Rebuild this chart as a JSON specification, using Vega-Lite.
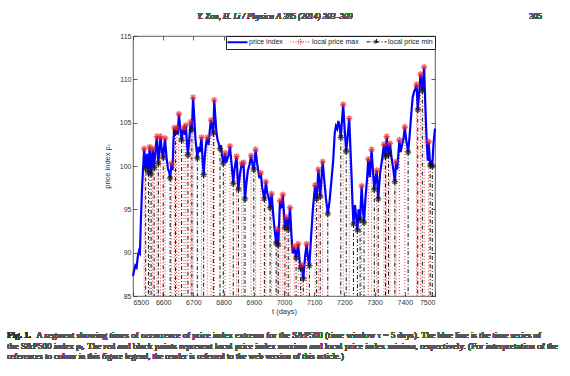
{
  "$schema": "https://vega.github.io/schema/vega-lite/v6.json",
  "width": 302,
  "height": 260,
  "autosize": {"type": "none"},
  "padding": {"left": 133, "top": 36, "right": 135, "bottom": 80},
  "background": "white",
  "config": {
    "view": {"stroke": "#333", "strokeWidth": 0.8},
    "axis": {"grid": false, "domain": false, "tickSize": -4, "tickColor": "#333", "tickWidth": 0.8, "labelFont": "Liberation Sans", "labelFontSize": 7, "labelColor": "#333", "labelPadding": 6, "titleFont": "Liberation Sans", "titleFontSize": 7.5, "titleFontWeight": "normal", "titleColor": "#333", "format": "d"},
    "legend": {"orient": "top-right", "direction": "horizontal", "offset": 0, "padding": 2, "strokeColor": "#222", "fillColor": "white", "labelFont": "Liberation Sans", "labelFontSize": 7, "labelColor": "#222", "symbolSize": 64, "labelOffset": 14, "columnPadding": 5, "cornerRadius": 0}
  },
  "datasets": {
    "s": [
      {"t": 6500, "p": 87.3, "k": ""},
      {"t": 6504, "p": 88.0, "k": ""},
      {"t": 6508, "p": 88.5, "k": ""},
      {"t": 6512, "p": 88.3, "k": ""},
      {"t": 6516, "p": 89.6, "k": ""},
      {"t": 6520, "p": 90.2, "k": ""},
      {"t": 6523, "p": 90.0, "k": ""},
      {"t": 6526, "p": 93.5, "k": ""},
      {"t": 6530, "p": 97.5, "k": ""},
      {"t": 6533, "p": 99.5, "k": ""},
      {"t": 6537, "p": 102.0, "k": "local price max"},
      {"t": 6542, "p": 99.7, "k": "local price min"},
      {"t": 6547, "p": 101.4, "k": ""},
      {"t": 6551, "p": 99.2, "k": "local price min"},
      {"t": 6555, "p": 102.2, "k": "local price max"},
      {"t": 6560, "p": 99.1, "k": "local price min"},
      {"t": 6565, "p": 102.0, "k": "local price max"},
      {"t": 6570, "p": 99.8, "k": "local price min"},
      {"t": 6575, "p": 102.1, "k": ""},
      {"t": 6579, "p": 103.4, "k": "local price max"},
      {"t": 6584, "p": 100.3, "k": "local price min"},
      {"t": 6588, "p": 102.0, "k": ""},
      {"t": 6591, "p": 103.4, "k": "local price max"},
      {"t": 6596, "p": 101.6, "k": ""},
      {"t": 6600, "p": 101.0, "k": "local price min"},
      {"t": 6606, "p": 103.2, "k": "local price max"},
      {"t": 6611, "p": 101.0, "k": ""},
      {"t": 6616, "p": 99.6, "k": ""},
      {"t": 6620, "p": 99.3, "k": ""},
      {"t": 6623, "p": 98.6, "k": "local price min"},
      {"t": 6627, "p": 100.3, "k": "local price max"},
      {"t": 6631, "p": 99.5, "k": ""},
      {"t": 6634, "p": 103.0, "k": ""},
      {"t": 6637, "p": 104.4, "k": "local price max"},
      {"t": 6641, "p": 103.9, "k": "local price min"},
      {"t": 6645, "p": 104.4, "k": "local price max"},
      {"t": 6648, "p": 103.6, "k": ""},
      {"t": 6652, "p": 106.0, "k": "local price max"},
      {"t": 6656, "p": 104.5, "k": ""},
      {"t": 6661, "p": 103.0, "k": "local price min"},
      {"t": 6665, "p": 104.1, "k": ""},
      {"t": 6669, "p": 104.4, "k": "local price max"},
      {"t": 6672, "p": 103.6, "k": ""},
      {"t": 6675, "p": 104.7, "k": "local price max"},
      {"t": 6679, "p": 102.5, "k": ""},
      {"t": 6682, "p": 101.3, "k": "local price min"},
      {"t": 6686, "p": 103.0, "k": ""},
      {"t": 6691, "p": 105.1, "k": "local price max"},
      {"t": 6695, "p": 104.2, "k": "local price min"},
      {"t": 6699, "p": 107.9, "k": "local price max"},
      {"t": 6703, "p": 105.5, "k": ""},
      {"t": 6707, "p": 103.0, "k": ""},
      {"t": 6710, "p": 102.0, "k": ""},
      {"t": 6713, "p": 100.9, "k": "local price min"},
      {"t": 6717, "p": 102.2, "k": ""},
      {"t": 6721, "p": 101.6, "k": ""},
      {"t": 6724, "p": 102.5, "k": ""},
      {"t": 6727, "p": 103.3, "k": "local price max"},
      {"t": 6730, "p": 101.0, "k": ""},
      {"t": 6734, "p": 99.0, "k": "local price min"},
      {"t": 6738, "p": 101.2, "k": ""},
      {"t": 6742, "p": 102.6, "k": ""},
      {"t": 6746, "p": 103.3, "k": "local price max"},
      {"t": 6750, "p": 102.4, "k": ""},
      {"t": 6754, "p": 104.0, "k": ""},
      {"t": 6758, "p": 105.3, "k": "local price max"},
      {"t": 6762, "p": 104.4, "k": ""},
      {"t": 6766, "p": 103.8, "k": "local price min"},
      {"t": 6769, "p": 107.6, "k": "local price max"},
      {"t": 6772, "p": 106.0, "k": ""},
      {"t": 6776, "p": 104.0, "k": ""},
      {"t": 6780, "p": 103.0, "k": ""},
      {"t": 6784, "p": 102.6, "k": ""},
      {"t": 6788, "p": 102.0, "k": "local price min"},
      {"t": 6791, "p": 102.4, "k": ""},
      {"t": 6795, "p": 101.2, "k": ""},
      {"t": 6799, "p": 100.3, "k": "local price min"},
      {"t": 6805, "p": 101.5, "k": "local price max"},
      {"t": 6809, "p": 100.4, "k": ""},
      {"t": 6813, "p": 100.9, "k": ""},
      {"t": 6817, "p": 101.3, "k": ""},
      {"t": 6821, "p": 102.3, "k": "local price max"},
      {"t": 6826, "p": 100.4, "k": ""},
      {"t": 6832, "p": 98.0, "k": "local price min"},
      {"t": 6836, "p": 99.6, "k": ""},
      {"t": 6843, "p": 101.1, "k": "local price max"},
      {"t": 6846, "p": 99.0, "k": ""},
      {"t": 6849, "p": 97.3, "k": "local price min"},
      {"t": 6854, "p": 99.0, "k": ""},
      {"t": 6860, "p": 100.3, "k": "local price max"},
      {"t": 6863, "p": 99.8, "k": ""},
      {"t": 6866, "p": 100.4, "k": "local price max"},
      {"t": 6871, "p": 96.2, "k": "local price min"},
      {"t": 6875, "p": 97.8, "k": ""},
      {"t": 6880, "p": 99.4, "k": ""},
      {"t": 6886, "p": 100.2, "k": ""},
      {"t": 6891, "p": 101.2, "k": "local price max"},
      {"t": 6896, "p": 100.1, "k": ""},
      {"t": 6900, "p": 99.6, "k": "local price min"},
      {"t": 6906, "p": 101.9, "k": "local price max"},
      {"t": 6911, "p": 100.3, "k": ""},
      {"t": 6915, "p": 99.4, "k": ""},
      {"t": 6918, "p": 98.6, "k": ""},
      {"t": 6923, "p": 99.2, "k": "local price max"},
      {"t": 6928, "p": 97.5, "k": ""},
      {"t": 6935, "p": 96.2, "k": "local price min"},
      {"t": 6940, "p": 98.2, "k": "local price max"},
      {"t": 6945, "p": 96.8, "k": ""},
      {"t": 6950, "p": 96.3, "k": ""},
      {"t": 6954, "p": 95.2, "k": "local price min"},
      {"t": 6959, "p": 96.8, "k": "local price max"},
      {"t": 6964, "p": 94.5, "k": ""},
      {"t": 6969, "p": 92.6, "k": ""},
      {"t": 6974, "p": 91.1, "k": "local price min"},
      {"t": 6978, "p": 92.7, "k": "local price max"},
      {"t": 6981, "p": 90.9, "k": "local price min"},
      {"t": 6985, "p": 94.5, "k": ""},
      {"t": 6987, "p": 96.0, "k": "local price max"},
      {"t": 6991, "p": 95.1, "k": ""},
      {"t": 6996, "p": 96.7, "k": "local price max"},
      {"t": 7000, "p": 94.5, "k": ""},
      {"t": 7003, "p": 92.9, "k": "local price min"},
      {"t": 7008, "p": 94.1, "k": "local price max"},
      {"t": 7014, "p": 92.7, "k": "local price min"},
      {"t": 7020, "p": 95.2, "k": "local price max"},
      {"t": 7025, "p": 91.8, "k": ""},
      {"t": 7029, "p": 89.9, "k": ""},
      {"t": 7034, "p": 90.7, "k": "local price max"},
      {"t": 7040, "p": 89.4, "k": "local price min"},
      {"t": 7047, "p": 91.0, "k": "local price max"},
      {"t": 7052, "p": 88.9, "k": ""},
      {"t": 7055, "p": 88.2, "k": "local price min"},
      {"t": 7059, "p": 88.6, "k": "local price max"},
      {"t": 7064, "p": 87.0, "k": "local price min"},
      {"t": 7070, "p": 89.6, "k": ""},
      {"t": 7075, "p": 91.0, "k": "local price max"},
      {"t": 7080, "p": 89.2, "k": ""},
      {"t": 7084, "p": 88.5, "k": "local price min"},
      {"t": 7090, "p": 92.0, "k": ""},
      {"t": 7096, "p": 95.2, "k": ""},
      {"t": 7103, "p": 97.8, "k": "local price max"},
      {"t": 7108, "p": 96.2, "k": "local price min"},
      {"t": 7114, "p": 99.6, "k": "local price max"},
      {"t": 7120, "p": 96.5, "k": "local price min"},
      {"t": 7128, "p": 100.5, "k": "local price max"},
      {"t": 7133, "p": 98.5, "k": ""},
      {"t": 7139, "p": 96.2, "k": ""},
      {"t": 7145, "p": 94.5, "k": "local price min"},
      {"t": 7151, "p": 96.0, "k": ""},
      {"t": 7157, "p": 98.3, "k": ""},
      {"t": 7163, "p": 100.7, "k": ""},
      {"t": 7168, "p": 103.8, "k": ""},
      {"t": 7172, "p": 104.6, "k": ""},
      {"t": 7176, "p": 104.3, "k": ""},
      {"t": 7180, "p": 105.2, "k": ""},
      {"t": 7184, "p": 104.6, "k": ""},
      {"t": 7188, "p": 103.3, "k": "local price min"},
      {"t": 7196, "p": 107.1, "k": "local price max"},
      {"t": 7201, "p": 104.2, "k": ""},
      {"t": 7206, "p": 101.7, "k": "local price min"},
      {"t": 7211, "p": 103.5, "k": ""},
      {"t": 7216, "p": 105.5, "k": "local price max"},
      {"t": 7220, "p": 102.0, "k": ""},
      {"t": 7224, "p": 98.5, "k": ""},
      {"t": 7227, "p": 95.5, "k": ""},
      {"t": 7230, "p": 93.3, "k": "local price min"},
      {"t": 7235, "p": 95.5, "k": ""},
      {"t": 7238, "p": 94.5, "k": ""},
      {"t": 7243, "p": 92.6, "k": "local price min"},
      {"t": 7247, "p": 95.0, "k": ""},
      {"t": 7252, "p": 93.8, "k": "local price min"},
      {"t": 7257, "p": 97.7, "k": "local price max"},
      {"t": 7261, "p": 95.2, "k": ""},
      {"t": 7265, "p": 93.5, "k": "local price min"},
      {"t": 7270, "p": 96.4, "k": ""},
      {"t": 7275, "p": 98.5, "k": ""},
      {"t": 7279, "p": 100.8, "k": "local price max"},
      {"t": 7284, "p": 98.7, "k": ""},
      {"t": 7290, "p": 101.9, "k": "local price max"},
      {"t": 7295, "p": 99.2, "k": ""},
      {"t": 7299, "p": 97.3, "k": "local price min"},
      {"t": 7303, "p": 98.6, "k": ""},
      {"t": 7307, "p": 99.5, "k": "local price max"},
      {"t": 7312, "p": 96.2, "k": "local price min"},
      {"t": 7318, "p": 99.1, "k": ""},
      {"t": 7324, "p": 100.6, "k": ""},
      {"t": 7331, "p": 102.5, "k": "local price max"},
      {"t": 7336, "p": 101.1, "k": "local price min"},
      {"t": 7340, "p": 103.4, "k": "local price max"},
      {"t": 7346, "p": 101.3, "k": "local price min"},
      {"t": 7351, "p": 102.6, "k": "local price max"},
      {"t": 7356, "p": 101.0, "k": ""},
      {"t": 7362, "p": 99.6, "k": ""},
      {"t": 7367, "p": 98.2, "k": "local price min"},
      {"t": 7371, "p": 100.5, "k": "local price max"},
      {"t": 7375, "p": 99.6, "k": ""},
      {"t": 7379, "p": 101.5, "k": ""},
      {"t": 7382, "p": 103.0, "k": "local price max"},
      {"t": 7386, "p": 101.6, "k": ""},
      {"t": 7392, "p": 102.6, "k": ""},
      {"t": 7396, "p": 103.2, "k": ""},
      {"t": 7400, "p": 104.5, "k": "local price max"},
      {"t": 7405, "p": 102.9, "k": ""},
      {"t": 7411, "p": 101.6, "k": "local price min"},
      {"t": 7416, "p": 103.5, "k": ""},
      {"t": 7421, "p": 105.8, "k": ""},
      {"t": 7426, "p": 107.9, "k": ""},
      {"t": 7431, "p": 108.6, "k": ""},
      {"t": 7435, "p": 108.9, "k": ""},
      {"t": 7439, "p": 109.4, "k": "local price max"},
      {"t": 7443, "p": 106.5, "k": "local price min"},
      {"t": 7447, "p": 108.2, "k": ""},
      {"t": 7452, "p": 110.6, "k": "local price max"},
      {"t": 7458, "p": 108.7, "k": "local price min"},
      {"t": 7464, "p": 111.4, "k": "local price max"},
      {"t": 7468, "p": 107.0, "k": ""},
      {"t": 7472, "p": 103.2, "k": ""},
      {"t": 7476, "p": 100.6, "k": ""},
      {"t": 7479, "p": 102.8, "k": "local price max"},
      {"t": 7484, "p": 100.1, "k": "local price min"},
      {"t": 7488, "p": 100.4, "k": ""},
      {"t": 7491, "p": 100.0, "k": "local price min"},
      {"t": 7495, "p": 102.6, "k": ""},
      {"t": 7500, "p": 104.3, "k": ""}
    ]
  },
  "data": {"name": "s"},
  "layer": [
    {
      "transform": [{"filter": "datum.k === 'local price max'"}],
      "mark": {"type": "rule", "strokeDash": [1, 2], "strokeWidth": 0.9},
      "encoding": {
        "x": {"field": "t", "type": "quantitative", "scale": {"domain": [6500, 7500], "nice": false, "zero": false}, "axis": {"orient": "top", "labels": false, "title": null, "values": [6500, 6600, 6700, 6800, 6900, 7000, 7100, 7200, 7300, 7400, 7500]}},
        "y": {"field": "p", "type": "quantitative", "scale": {"domain": [85, 115], "nice": false, "zero": false}, "axis": {"orient": "right", "labels": false, "title": null, "values": [85, 90, 95, 100, 105, 110, 115]}},
        "y2": {"datum": 85},
        "color": {"field": "k", "type": "nominal", "scale": {"domain": ["price index", "local price max", "local price min"], "range": ["#0000ff", "#ee2222", "#111111"]},
          "legend": {"title": null, "symbolSize": 64, "encode": {"symbols": {"update": {
            "shape": {"signal": "datum.value === 'price index' ? 'M-1,0L4,0' : 'M-1,0L4,0M0.8,0L2.2,0M1.5,-0.7L1.5,0.7M1,-0.5L2,0.5M1,0.5L2,-0.5'"},
            "strokeDash": {"signal": "datum.value === 'price index' ? [] : datum.value === 'local price max' ? [1, 1.5] : [4, 2, 1, 2]"},
            "strokeWidth": {"signal": "datum.value === 'price index' ? 2 : 1"},
            "fill": {"value": "transparent"}}}}}}
      }
    },
    {
      "transform": [{"filter": "datum.k === 'local price min'"}],
      "mark": {"type": "rule", "strokeDash": [4, 2, 1, 2], "strokeWidth": 1},
      "encoding": {
        "x": {"field": "t", "type": "quantitative", "axis": null},
        "y": {"field": "p", "type": "quantitative", "axis": null},
        "y2": {"datum": 85},
        "color": {"field": "k", "type": "nominal"}
      }
    },
    {
      "mark": {"type": "line", "strokeWidth": 2.2},
      "encoding": {
        "x": {"field": "t", "type": "quantitative", "axis": {"orient": "bottom", "title": "t (days)", "titlePadding": 2, "values": [6500, 6600, 6700, 6800, 6900, 7000, 7100, 7200, 7300, 7400, 7500]}},
        "y": {"field": "p", "type": "quantitative", "axis": {"orient": "left", "title": "price index pₜ", "titlePadding": 8, "values": [85, 90, 95, 100, 105, 110, 115]}},
        "color": {"datum": "price index", "type": "nominal"}
      }
    },
    {
      "transform": [{"filter": "datum.k !== ''"}],
      "mark": {"type": "point", "shape": "M-1,0L1,0M0,-1L0,1M-0.7,-0.7L0.7,0.7M-0.7,0.7L0.7,-0.7", "filled": false, "size": 40, "strokeWidth": 1.3},
      "encoding": {
        "x": {"field": "t", "type": "quantitative", "axis": null},
        "y": {"field": "p", "type": "quantitative", "axis": null},
        "color": {"field": "k", "type": "nominal"}
      }
    },
    {
      "mark": {"type": "text", "align": "center", "baseline": "middle", "font": "Liberation Serif", "fontSize": 8.5, "fontStyle": "italic", "fontWeight": "normal", "color": "#555"},
      "encoding": {
        "x": {"datum": 6970, "type": "quantitative", "axis": null},
        "y": {"datum": 117.27, "type": "quantitative", "axis": null},
        "text": {"value": "Y. Zou, H. Li / Physica A 395 (2014) 303–309"}
      }
    },
    {
      "mark": {"type": "text", "align": "right", "baseline": "middle", "font": "Liberation Serif", "fontSize": 8.5, "fontWeight": "normal", "color": "#555"},
      "encoding": {
        "x": {"datum": 7854, "type": "quantitative", "axis": null},
        "y": {"datum": 117.27, "type": "quantitative", "axis": null},
        "text": {"value": "305"}
      }
    },
    {
      "mark": {"type": "text", "align": "left", "baseline": "middle", "font": "Liberation Serif", "fontSize": 9, "fontWeight": "bold", "color": "#333"},
      "encoding": {
        "x": {"datum": 6083.8, "type": "quantitative", "axis": null},
        "y": {"datum": 80.47, "type": "quantitative", "axis": null},
        "text": {"value": "Fig. 1."}
      }
    },
    {
      "mark": {"type": "text", "align": "left", "baseline": "middle", "font": "Liberation Serif", "fontSize": 9.0, "fontWeight": "normal", "dx": 29, "color": "#555"},
      "encoding": {
        "x": {"datum": 6083.8, "type": "quantitative", "axis": null},
        "y": {"datum": 80.47, "type": "quantitative", "axis": null},
        "text": {"value": "A segment showing times of occurrence of price index extrema for the S&P500 (time window τ = 5 days). The blue line is the time series of"}
      }
    },
    {
      "mark": {"type": "text", "align": "left", "baseline": "middle", "font": "Liberation Serif", "fontSize": 9.1, "fontWeight": "normal", "color": "#555"},
      "encoding": {
        "x": {"datum": 6083.8, "type": "quantitative", "axis": null},
        "y": {"datum": 79.2, "type": "quantitative", "axis": null},
        "text": {"value": "the S&P500 index pₜ. The red and black points represent local price index maxima and local price index minima, respectively. (For interpretation of the"}
      }
    },
    {
      "mark": {"type": "text", "align": "left", "baseline": "middle", "font": "Liberation Serif", "fontSize": 8.7, "fontWeight": "normal", "color": "#555"},
      "encoding": {
        "x": {"datum": 6083.8, "type": "quantitative", "axis": null},
        "y": {"datum": 78.05, "type": "quantitative", "axis": null},
        "text": {"value": "references to colour in this figure legend, the reader is referred to the web version of this article.)"}
      }
    }
  ],
  "resolve": {"axis": {"x": "independent", "y": "independent"}}
}
